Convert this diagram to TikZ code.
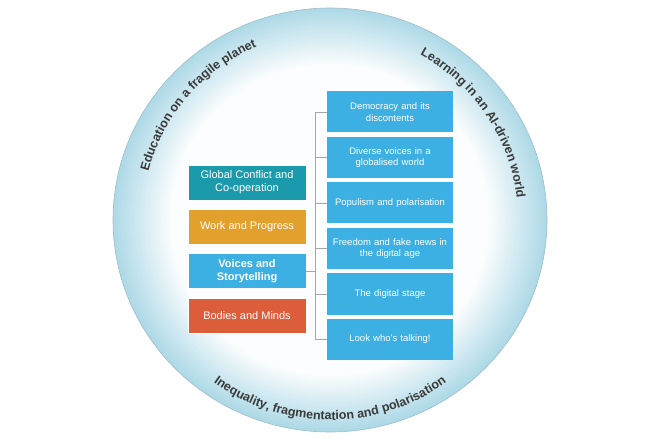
\documentclass[tikz,border=0pt]{standalone}
\usepackage{fontspec}
\setmainfont{Liberation Sans}
\usetikzlibrary{decorations.text}
\definecolor{cedge}{HTML}{AED9E7}
\definecolor{cteal}{HTML}{1A9AAA}
\definecolor{corange}{HTML}{E2A12C}
\definecolor{cblue}{HTML}{3CB0E2}
\definecolor{cred}{HTML}{DB5D39}
\definecolor{ctxt}{HTML}{3A3A3A}
\tikzset{
  lbox/.style={minimum width=118pt, minimum height=35pt, text=white, align=center, font=\fontsize{11}{13}\selectfont, inner sep=1pt, draw=white, line width=0.6pt},
  rbox/.style={fill=cblue, minimum width=126pt, minimum height=41pt, text=white, align=center, text width=124pt, font=\fontsize{9.5}{11.5}\selectfont, inner sep=1pt},
  conn/.style={draw=gray!70, line width=0.6pt},
  arctext/.style={decorate, decoration={text along path, text align=center, text color=ctxt}}
}
\begin{document}
\begin{tikzpicture}[x=1pt,y=1pt]
\useasboundingbox (0,0) rectangle (660,439);
\fill[white] (0,0) rectangle (660,439);
\coordinate (c) at (330,219);
\foreach \i in {0,...,24} {
  \pgfmathsetmacro{\s}{1-0.011*\i}
  \pgfmathsetmacro{\m}{100-4*\i}
  \fill[cedge!\m!white] (c) ellipse[x radius=217*\s, y radius=212*\s];
}
\draw[cedge!70!gray, line width=0.6pt] (c) ellipse[x radius=217, y radius=212];

% curved texts
\path[arctext, decoration={text={|\fontsize{12.5}{13}\selectfont\bfseries|Education on a fragile planet}}]
  (c) ++(174:188) arc[start angle=174, end angle=104, radius=188];
\path[arctext, decoration={text={|\fontsize{12.5}{13}\selectfont\bfseries|Learning in an AI-driven world}}]
  (c) ++(74:188) arc[start angle=74, end angle=-6, radius=188];
\path[arctext, decoration={text={|\fontsize{12.5}{13}\selectfont\bfseries|Inequality, fragmentation and polarisation}}]
  (c) ++(226:200) arc[start angle=226, end angle=314, radius=200];

% left boxes
\node[lbox, fill=cteal] (g) at (247,256.5) {Global Conflict and\\Co-operation};
\node[lbox, fill=corange] (w) at (247,212) {Work and Progress};
\node[lbox, fill=cblue, font=\fontsize{11}{13}\selectfont\bfseries] (v) at (247,168) {Voices and\\Storytelling};
\node[lbox, fill=cred] (b) at (247,123.5) {Bodies and Minds};

% right boxes
\node[rbox] (r1) at (390,327) {Democracy and its\\discontents};
\node[rbox] (r2) at (390,281.5) {Diverse voices in a\\globalised world};
\node[rbox] (r3) at (390,236) {Populism and polarisation};
\node[rbox] (r4) at (390,190.5) {Freedom and fake news in\\the digital age};
\node[rbox] (r5) at (390,145) {The digital stage};
\node[rbox] (r6) at (390,99.5) {Look who's talking!};

% connectors
\coordinate (bus) at (315,168);
\draw[conn] (v.east) -- (bus);
\draw[conn] (r1.west) -| (bus);
\draw[conn] (r6.west) -| (bus);
\foreach \r in {r2,r3,r4,r5} { \draw[conn] (\r.west) -- (\r.west -| bus); }
\end{tikzpicture}
\end{document}
